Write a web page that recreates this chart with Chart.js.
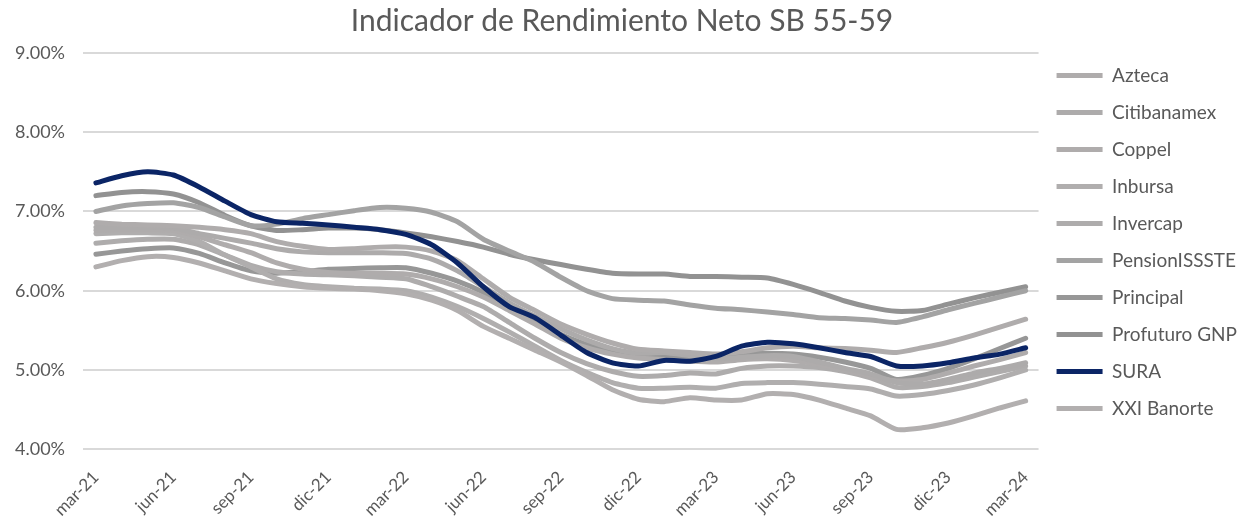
<!DOCTYPE html>
<html>
<head>
<meta charset="utf-8">
<script src="https://cdn.jsdelivr.net/npm/chart.js@4.4.1/dist/chart.umd.min.js"></script>
<style>
  html, body { margin: 0; padding: 0; background: #fff; }
  #wrap { width: 1244px; height: 523px; }
</style>
</head>
<body>
<div id="wrap"><canvas id="chart" width="1244" height="523"></canvas></div>
<script>
// Meses (mar-21 .. mar-24)
const months = [
  'mar-21', 'abr-21', 'may-21', 'jun-21', 'jul-21', 'ago-21', 'sep-21', 'oct-21', 'nov-21', 'dic-21',
  'ene-22', 'feb-22', 'mar-22', 'abr-22', 'may-22', 'jun-22', 'jul-22', 'ago-22', 'sep-22', 'oct-22',
  'nov-22', 'dic-22', 'ene-23', 'feb-23', 'mar-23', 'abr-23', 'may-23', 'jun-23', 'jul-23', 'ago-23',
  'sep-23', 'oct-23', 'nov-23', 'dic-23', 'ene-24', 'feb-24', 'mar-24'
];

// Rendimiento neto (%)
const azteca = [6.86, 6.84, 6.83, 6.82, 6.80, 6.77, 6.72, 6.62, 6.56, 6.52, 6.53, 6.55, 6.55, 6.50, 6.38, 6.15, 5.92, 5.75, 5.58, 5.45, 5.34, 5.26, 5.24, 5.22, 5.20, 5.23, 5.28, 5.30, 5.28, 5.27, 5.25, 5.22, 5.28, 5.35, 5.44, 5.54, 5.64];
const citibanamex = [6.80, 6.80, 6.80, 6.79, 6.72, 6.66, 6.60, 6.53, 6.49, 6.48, 6.48, 6.48, 6.47, 6.40, 6.25, 6.05, 5.85, 5.68, 5.52, 5.38, 5.27, 5.21, 5.22, 5.18, 5.14, 5.16, 5.18, 5.17, 5.10, 5.02, 4.95, 4.84, 4.82, 4.88, 4.96, 5.02, 5.09];
const coppel = [6.76, 6.77, 6.77, 6.76, 6.68, 6.58, 6.48, 6.35, 6.27, 6.23, 6.22, 6.22, 6.21, 6.15, 6.05, 5.92, 5.75, 5.58, 5.40, 5.28, 5.20, 5.15, 5.13, 5.11, 5.10, 5.13, 5.14, 5.12, 5.07, 5.00, 4.92, 4.86, 4.88, 4.96, 5.05, 5.13, 5.22];
const inbursa = [6.72, 6.73, 6.73, 6.72, 6.62, 6.45, 6.30, 6.15, 6.08, 6.05, 6.03, 6.02, 6.00, 5.92, 5.80, 5.65, 5.48, 5.30, 5.12, 4.97, 4.84, 4.77, 4.77, 4.78, 4.77, 4.83, 4.84, 4.84, 4.82, 4.79, 4.76, 4.67, 4.69, 4.74, 4.81, 4.90, 5.00];
const invercap = [6.60, 6.63, 6.65, 6.65, 6.58, 6.45, 6.32, 6.24, 6.21, 6.20, 6.19, 6.17, 6.15, 6.05, 5.93, 5.80, 5.60, 5.40, 5.22, 5.08, 4.98, 4.92, 4.93, 4.96, 4.95, 5.02, 5.05, 5.05, 5.03, 4.98, 4.90, 4.78, 4.79, 4.84, 4.91, 4.98, 5.05];
const pensionissste = [7.00, 7.07, 7.10, 7.11, 7.05, 6.93, 6.82, 6.84, 6.91, 6.96, 7.01, 7.05, 7.04, 6.99, 6.87, 6.65, 6.50, 6.36, 6.17, 6.00, 5.90, 5.88, 5.87, 5.82, 5.78, 5.76, 5.73, 5.70, 5.66, 5.65, 5.63, 5.60, 5.67, 5.76, 5.84, 5.92, 6.00];
const principal = [6.46, 6.50, 6.53, 6.54, 6.47, 6.35, 6.25, 6.22, 6.24, 6.27, 6.28, 6.29, 6.29, 6.22, 6.12, 5.98, 5.80, 5.62, 5.45, 5.32, 5.22, 5.17, 5.17, 5.15, 5.15, 5.20, 5.21, 5.20, 5.16, 5.10, 5.02, 4.88, 4.93, 5.02, 5.14, 5.27, 5.40];
const profuturo = [7.20, 7.24, 7.25, 7.22, 7.11, 6.95, 6.82, 6.76, 6.77, 6.79, 6.79, 6.77, 6.73, 6.68, 6.62, 6.55, 6.46, 6.39, 6.33, 6.27, 6.22, 6.21, 6.21, 6.18, 6.18, 6.17, 6.16, 6.08, 5.98, 5.87, 5.79, 5.74, 5.75, 5.83, 5.91, 5.98, 6.05];
const sura = [7.36, 7.45, 7.50, 7.46, 7.31, 7.13, 6.96, 6.87, 6.85, 6.83, 6.80, 6.77, 6.71, 6.58, 6.35, 6.05, 5.80, 5.66, 5.44, 5.22, 5.09, 5.05, 5.12, 5.11, 5.17, 5.30, 5.35, 5.33, 5.28, 5.22, 5.17, 5.05, 5.05, 5.09, 5.15, 5.20, 5.28];
const xxiBanorte = [6.30, 6.38, 6.43, 6.42, 6.35, 6.25, 6.15, 6.09, 6.05, 6.03, 6.02, 6.00, 5.96, 5.88, 5.75, 5.55, 5.40, 5.25, 5.10, 4.93, 4.75, 4.63, 4.60, 4.65, 4.62, 4.62, 4.70, 4.69, 4.62, 4.52, 4.42, 4.25, 4.27, 4.33, 4.42, 4.52, 4.61];

const yTicks = [4, 5, 6, 7, 8, 9];

const FONT = 'Lato, "Open Sans", sans-serif';
const TXT = '#595959';

function serie(label, data, color, order) {
    return {
        label: label,
        data: data,
        borderColor: color,
        backgroundColor: color,
        borderWidth: 5,
        pointRadius: 0,
        pointHoverRadius: 0,
        tension: 0.2,
        borderCapStyle: 'round',
        borderJoinStyle: 'round',
        order: order
    };
}

const ctx = document.getElementById('chart').getContext('2d');
new Chart(ctx, {
    type: 'line',
    data: {
        labels: months,
        datasets: [
            serie('Azteca', azteca, '#AFACAC', 2),
            serie('Citibanamex', citibanamex, '#ADABAB', 2),
            serie('Coppel', coppel, '#AFACAC', 2),
            serie('Inbursa', inbursa, '#B0AEAE', 2),
            serie('Invercap', invercap, '#AEACAC', 2),
            serie('PensionISSSTE', pensionissste, '#A3A3A3', 2),
            serie('Principal', principal, '#979797', 2),
            serie('Profuturo GNP', profuturo, '#929292', 2),
            serie('SURA', sura, '#0B2566', 1),
            serie('XXI Banorte', xxiBanorte, '#B2AFAF', 0)
        ]
    },
    options: {
        responsive: false,
        animation: false,
        layout: { padding: { left: -3, right: -3, top: 0, bottom: -7 } },
        plugins: {
            title: {
                display: true,
                text: 'Indicador de Rendimiento Neto SB 55-59',
                color: TXT,
                font: { family: FONT, size: 30, weight: 'normal' },
                padding: { top: 3, bottom: 14 }
            },
            legend: {
                position: 'right',
                align: 'start',
                title: {
                    display: true,
                    text: ' ',
                    font: { size: 10 },
                    padding: { top: 0, bottom: 36 }
                },
                labels: {
                    sort: (a, b) => a.datasetIndex - b.datasetIndex,
                    usePointStyle: true,
                    pointStyle: 'line',
                    pointStyleWidth: 46,
                    boxHeight: 5,
                    padding: 18,
                    color: TXT,
                    font: { family: FONT, size: 19 }
                }
            },
            tooltip: { enabled: false }
        },
        scales: {
            x: {
                offset: true,
                grid: { display: false },
                border: { display: false },
                ticks: {
                    autoSkip: false,
                    maxRotation: 45,
                    minRotation: 45,
                    padding: 10,
                    color: TXT,
                    font: { family: FONT, size: 17 },
                    callback: function (val, i) { return i % 3 === 0 ? months[i] : ''; }
                }
            },
            y: {
                min: 4,
                max: 9,
                afterBuildTicks: (axis) => { axis.ticks = yTicks.map(v => ({ value: v })); },
                grid: { color: '#D9D9D9', lineWidth: 2, drawTicks: false },
                border: { display: false },
                ticks: {
                    padding: 18,
                    color: TXT,
                    font: { family: FONT, size: 18 },
                    callback: (v) => v.toFixed(2) + '%'
                }
            }
        }
    }
});
</script>
</body>
</html>
